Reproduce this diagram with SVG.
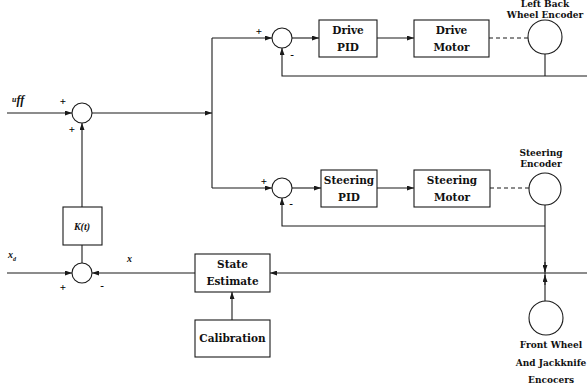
<svg xmlns="http://www.w3.org/2000/svg" width="587" height="389" viewBox="0 0 587 389">
<defs>
<marker id="ah" markerWidth="7" markerHeight="5" refX="7" refY="2.5" orient="auto" markerUnits="userSpaceOnUse">
<path d="M0,0 L7,2.5 L0,5 Z" fill="#1a1a1a"/>
</marker>
</defs>
<style>
.ln{fill:none;stroke:#1a1a1a;stroke-width:1.1}
.ds{fill:none;stroke:#1a1a1a;stroke-width:1.1;stroke-dasharray:4 3}
.bx{fill:#fff;stroke:#1a1a1a;stroke-width:1.1}
.ci{fill:#fff;stroke:#1a1a1a;stroke-width:1.1}
.bt{font-family:"DejaVu Serif","Liberation Serif",serif;font-weight:bold;font-size:10.5px;fill:#111;text-anchor:middle}
.el{font-family:"DejaVu Serif","Liberation Serif",serif;font-weight:bold;font-size:9px;fill:#111;text-anchor:middle}
.sg{font-family:"Liberation Serif",serif;font-weight:bold;font-size:11px;fill:#000;text-anchor:middle}
.it{font-family:"Liberation Serif",serif;font-style:italic;font-weight:bold;fill:#111}
</style>
<rect width="587" height="389" fill="#fff"/>
<g id="connectors">
<path class="ln" d="M7,113 H72" marker-end="url(#ah)"/>
<path class="ln" d="M92,113 H212" marker-end="url(#ah)"/>
<path class="ln" d="M212,38 V188"/>
<path class="ln" d="M212,38 H272" marker-end="url(#ah)"/>
<path class="ln" d="M212,188 H272" marker-end="url(#ah)"/>
<path class="ln" d="M292,38 H319" marker-end="url(#ah)"/>
<path class="ln" d="M377,38 H414" marker-end="url(#ah)"/>
<path class="ds" d="M489,38 H528"/>
<path class="ln" d="M545,54 V76"/>
<path class="ln" d="M587,76 H282 V48" marker-end="url(#ah)"/>
<path class="ln" d="M292,188 H321" marker-end="url(#ah)"/>
<path class="ln" d="M377,188 H414" marker-end="url(#ah)"/>
<path class="ds" d="M490,188 H529"/>
<path class="ln" d="M545,205 V301"/>
<path class="ln" d="M545,226 H282 V198" marker-end="url(#ah)"/>
<path class="ln" d="M545,262 V272" marker-end="url(#ah)"/>
<path class="ln" d="M545,285 V275" marker-end="url(#ah)"/>
<path class="ln" d="M587,273 H270" marker-end="url(#ah)"/>
<path class="ln" d="M195,273 H92" marker-end="url(#ah)"/>
<path class="ln" d="M7,273 H72" marker-end="url(#ah)"/>
<path class="ln" d="M82,207 V123" marker-end="url(#ah)"/>
<path class="ln" d="M82,263 V245"/>
<path class="ln" d="M232,320 V292" marker-end="url(#ah)"/>
</g>
<g id="sum1">
<circle class="ci" cx="82" cy="113" r="10"/>
<text class="sg" x="63" y="105">+</text>
<text class="sg" x="72" y="133">+</text>
</g>
<g id="uff_label">
<text class="it" x="12" y="102" font-size="8">u<tspan font-size="12" dy="2">ff</tspan></text>
</g>
<g id="sum_drive">
<circle class="ci" cx="282" cy="38" r="10"/>
<text class="sg" x="259" y="35">+</text>
<text class="sg" x="292" y="58">-</text>
</g>
<g id="drive_pid">
<rect class="bx" x="319" y="20" width="58" height="37"/>
<text class="bt" x="348" y="34">Drive</text>
<text class="bt" x="348" y="51">PID</text>
</g>
<g id="drive_motor">
<rect class="bx" x="414" y="20" width="75" height="37"/>
<text class="bt" x="451.5" y="34">Drive</text>
<text class="bt" x="451.5" y="51">Motor</text>
</g>
<g id="left_back_encoder">
<circle class="ci" cx="545" cy="37" r="17"/>
<text class="el" x="545" y="7">Left Back</text>
<text class="el" x="545" y="18">Wheel Encoder</text>
</g>
<g id="sum_steer">
<circle class="ci" cx="282" cy="188" r="10"/>
<text class="sg" x="264" y="185">+</text>
<text class="sg" x="291" y="207">-</text>
</g>
<g id="steering_pid">
<rect class="bx" x="321" y="170" width="56" height="37"/>
<text class="bt" x="349" y="184">Steering</text>
<text class="bt" x="349" y="201">PID</text>
</g>
<g id="steering_motor">
<rect class="bx" x="414" y="170" width="76" height="37"/>
<text class="bt" x="452" y="184">Steering</text>
<text class="bt" x="452" y="201">Motor</text>
</g>
<g id="steering_encoder">
<circle class="ci" cx="545" cy="189" r="16"/>
<text class="el" x="541" y="156" font-size="8">Steering</text>
<text class="el" x="541" y="167" font-size="8">Encoder</text>
</g>
<g id="front_wheel_encoder">
<circle class="ci" cx="546" cy="318" r="17"/>
<text class="el" x="551" y="348">Front Wheel</text>
<text class="el" x="551" y="366">And Jackknife</text>
<text class="el" x="551" y="383">Encocers</text>
</g>
<g id="k_t">
<rect class="bx" x="63" y="207" width="39" height="38"/>
<text class="it" x="82" y="230" font-size="10" text-anchor="middle">K(t)</text>
</g>
<g id="sum2">
<circle class="ci" cx="82" cy="273" r="10"/>
<text class="sg" x="63" y="291">+</text>
<text class="sg" x="102" y="289">-</text>
</g>
<g id="xd_label">
<text class="it" x="8" y="258" font-size="10">x<tspan font-size="6" dy="3">d</tspan></text>
</g>
<g id="x_label">
<text class="it" x="127" y="262" font-size="10">x</text>
</g>
<g id="state_estimate">
<rect class="bx" x="195" y="254" width="75" height="38"/>
<text class="bt" x="232.5" y="268">State</text>
<text class="bt" x="232.5" y="285">Estimate</text>
</g>
<g id="calibration">
<rect class="bx" x="195" y="320" width="75" height="37"/>
<text class="bt" x="232.5" y="342">Calibration</text>
</g>
</svg>
